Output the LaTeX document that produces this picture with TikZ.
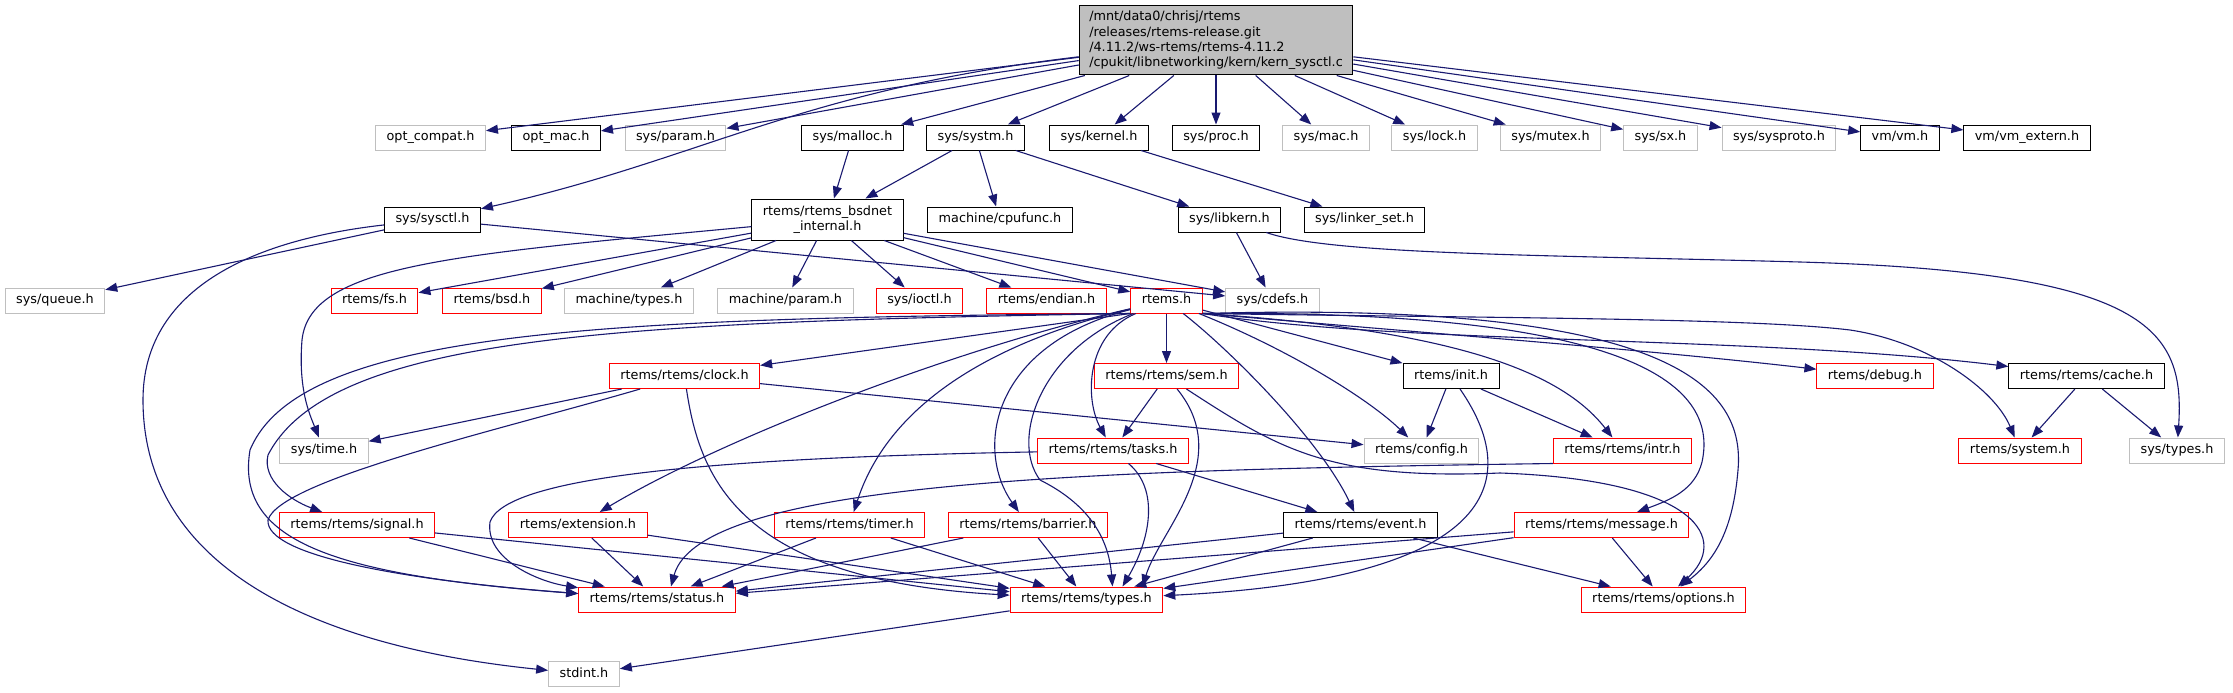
\documentclass[tikz,border=0pt]{standalone}
\usepackage{fontspec}
\setmainfont{DejaVu Sans}
\usetikzlibrary{arrows.meta}
\definecolor{edgeblue}{HTML}{191970}
\definecolor{boxgray}{HTML}{BFBFBF}
\definecolor{boxred}{HTML}{FF0000}
\newcommand\hdrfont{\fontsize{12.8pt}{15.3pt}\selectfont}

\begin{document}
\begin{tikzpicture}[x=1pt, y=-1pt, >={Stealth[length=12pt,width=9pt,inset=0pt]},
  hdrbase/.style={draw=black, fill=white, line width=1pt, inner xsep=11pt, inner ysep=0pt, font=\hdrfont},
  hdr/.style={hdrbase, minimum height=25pt, text height=9.6pt, text depth=3pt},
  hdrgray/.style={hdr, draw=boxgray},
  hdrred/.style={hdr, draw=boxred},
  rootbox/.style={hdrbase, fill=boxgray, align=left, inner xsep=10pt, minimum width=268pt, minimum height=69pt},
  dep/.style={->, edgeblue, line width=1.1pt}]
  \path[fill=white] (0,0) rectangle (2233,693);

  \node[rootbox] (root) at (1216,40.5) {/mnt/data0/chrisj/rtems\\/releases/rtems-release.git\\/4.11.2/ws-rtems/rtems-4.11.2\\/cpukit/libnetworking/kern/kern\_sysctl.c};

  \node[hdrgray] (optcompat) at (430.5,137.5) {opt\_compat.h};
  \node[hdr] (optmac) at (556,137.5) {opt\_mac.h};
  \node[hdrgray] (sysparam) at (675.5,137.5) {sys/param.h};
  \node[hdr] (sysmalloc) at (852.5,137.5) {sys/malloc.h};
  \node[hdr] (syssystm) at (975.5,137.5) {sys/systm.h};
  \node[hdr] (syskernel) at (1099,137.5) {sys/kernel.h};
  \node[hdr] (sysproc) at (1216,137.5) {sys/proc.h};
  \node[hdrgray] (sysmac) at (1326,137.5) {sys/mac.h};
  \node[hdrgray] (syslock) at (1434.5,137.5) {sys/lock.h};
  \node[hdrgray] (sysmutex) at (1550.5,137.5) {sys/mutex.h};
  \node[hdrgray] (syssx) at (1660.5,137.5) {sys/sx.h};
  \node[hdrgray] (syssysproto) at (1779,137.5) {sys/sysproto.h};
  \node[hdr] (vmvm) at (1900,137.5) {vm/vm.h};
  \node[hdr] (vmextern) at (2027,137.5) {vm/vm\_extern.h};

  \node[hdr] (syssysctl) at (432.5,219.5) {sys/sysctl.h};
  \node[hdrbase, align=center, minimum height=41pt] (bsdnet) at (827.5,219.5) {rtems/rtems\_bsdnet\\\_internal.h};
  \node[hdr] (cpufunc) at (1000,219.5) {machine/cpufunc.h};
  \node[hdr] (syslibkern) at (1229.5,219.5) {sys/libkern.h};
  \node[hdr] (linkerset) at (1364.5,219.5) {sys/linker\_set.h};

  \node[hdrgray] (sysqueue) at (55,300.5) {sys/queue.h};
  \node[hdrred] (rtemsfs) at (374.5,300.5) {rtems/fs.h};
  \node[hdrred] (rtemsbsd) at (492,300.5) {rtems/bsd.h};
  \node[hdrgray] (machtypes) at (629,300.5) {machine/types.h};
  \node[hdrgray] (machparam) at (785.5,300.5) {machine/param.h};
  \node[hdrred] (sysioctl) at (919.5,300.5) {sys/ioctl.h};
  \node[hdrred] (rtemsendian) at (1046.5,300.5) {rtems/endian.h};
  \node[hdrred] (rtemsh) at (1166.5,300.5) {rtems.h};
  \node[hdrgray] (syscdefs) at (1272.5,300.5) {sys/cdefs.h};

  \node[hdrred] (clock) at (684.5,376) {rtems/rtems/clock.h};
  \node[hdrred] (sem) at (1166.5,376) {rtems/rtems/sem.h};
  \node[hdr] (init) at (1451,376) {rtems/init.h};
  \node[hdrred] (debug) at (1875,376) {rtems/debug.h};
  \node[hdr] (cache) at (2086.5,376) {rtems/rtems/cache.h};

  \node[hdrgray] (systime) at (324,450.5) {sys/time.h};
  \node[hdrred] (tasks) at (1113,450.5) {rtems/rtems/tasks.h};
  \node[hdrgray] (config) at (1421.5,450.5) {rtems/config.h};
  \node[hdrred] (intr) at (1622.5,450.5) {rtems/rtems/intr.h};
  \node[hdrred] (system) at (2020,450.5) {rtems/system.h};
  \node[hdrgray] (systypes) at (2177,450.5) {sys/types.h};

  \node[hdrred] (signal) at (357,525) {rtems/rtems/signal.h};
  \node[hdrred] (extension) at (578,525) {rtems/extension.h};
  \node[hdrred] (timer) at (849.5,525) {rtems/rtems/timer.h};
  \node[hdrred] (barrier) at (1028,525) {rtems/rtems/barrier.h};
  \node[hdr] (event) at (1360.5,525) {rtems/rtems/event.h};
  \node[hdrred] (message) at (1601.5,525) {rtems/rtems/message.h};

  \node[hdrred] (status) at (657,599.5) {rtems/rtems/status.h};
  \node[hdrred] (rtypes) at (1086.5,599.5) {rtems/rtems/types.h};
  \node[hdrred] (options) at (1663.5,599.5) {rtems/rtems/options.h};

  \node[hdrgray] (stdint) at (584,674) {stdint.h};

  % kern_sysctl.c
  \draw[dep] (root) -- (optcompat);
  \draw[dep] (root) -- (optmac);
  \draw[dep] (root) -- (sysparam);
  \draw[dep] (root) -- (sysmalloc);
  \draw[dep] (root) -- (syssystm);
  \draw[dep] (root) -- (syskernel);
  \draw[dep] (root) -- (sysproc);
  \draw[dep] (root) -- (sysmac);
  \draw[dep] (root) -- (syslock);
  \draw[dep] (root) -- (sysmutex);
  \draw[dep] (root) -- (syssx);
  \draw[dep] (root) -- (syssysproto);
  \draw[dep] (root) -- (vmvm);
  \draw[dep] (root) -- (vmextern);
  \draw[dep] (root) .. controls (800,90) and (700,160) .. (syssysctl);

  \draw[dep] (sysmalloc) -- (bsdnet);
  \draw[dep] (syssystm) -- (bsdnet);
  \draw[dep] (syssystm) -- (cpufunc);
  \draw[dep] (syssystm) -- (syslibkern);
  \draw[dep] (syskernel) -- (linkerset);
  \draw[dep] (syssysctl) -- (sysqueue);
  \draw[dep] (syssysctl) -- (syscdefs);
  \draw[dep] (syssysctl) .. controls (250,240) and (143,290) .. (143,400) .. controls (143,560) and (300,645) .. (stdint);
  \draw[dep] (syslibkern) -- (syscdefs);
  \draw[dep] (syslibkern) .. controls (1330,255) and (1550,255) .. (1800,262) .. controls (2150,272) and (2185,330) .. (systypes);

  % rtems_bsdnet_internal.h
  \draw[dep] (bsdnet) -- (rtemsfs);
  \draw[dep] (bsdnet) -- (rtemsbsd);
  \draw[dep] (bsdnet) -- (machtypes);
  \draw[dep] (bsdnet) -- (machparam);
  \draw[dep] (bsdnet) -- (sysioctl);
  \draw[dep] (bsdnet) -- (rtemsendian);
  \draw[dep] (bsdnet) -- (rtemsh);
  \draw[dep] (bsdnet) -- (syscdefs);
  \draw[dep] (bsdnet) .. controls (450,255) and (310,265) .. (302,340) .. controls (298,390) and (310,415) .. (systime);

  % rtems.h
  \draw[dep] (rtemsh.south west) -- (clock);
  \draw[dep] (rtemsh) -- (sem);
  \draw[dep] (rtemsh) -- (init);
  \draw[dep] (rtemsh.south east) .. controls (1450,335) and (1650,350) .. (debug);
  \draw[dep] (rtemsh.south east) .. controls (1400,345) and (1750,335) .. (cache);
  \draw[dep] (rtemsh.south east) .. controls (1500,318) and (1750,318) .. (1850,330) .. controls (1930,342) and (1995,390) .. (system);
  \draw[dep] (rtemsh) .. controls (1290,350) and (1370,400) .. (config);
  \draw[dep] (rtemsh.south east) .. controls (1450,330) and (1560,370) .. (intr);
  \draw[dep] (rtemsh.south east) .. controls (1620,310) and (1720,380) .. (1702,462) .. controls (1695,490) and (1670,500) .. (message);
  \draw[dep] (rtemsh.south east) .. controls (1680,300) and (1745,390) .. (1738,470) .. controls (1733,530) and (1715,560) .. (options);
  \draw[dep] (rtemsh) .. controls (1230,350) and (1320,440) .. (event);
  \draw[dep] (rtemsh) .. controls (1085,335) and (1085,400) .. (tasks);
  \draw[dep] (rtemsh) .. controls (1000,340) and (890,400) .. (timer);
  \draw[dep] (rtemsh) .. controls (990,345) and (975,450) .. (barrier);
  \draw[dep] (rtemsh) .. controls (950,350) and (720,440) .. (extension);
  \draw[dep] (rtemsh) .. controls (1040,350) and (1010,440) .. (1040,480) .. controls (1080,500) and (1108,530) .. ([xshift=26pt]rtypes.north);
  \draw[dep] (rtemsh.south west) .. controls (600,318) and (300,330) .. (250,450) .. controls (235,540) and (330,575) .. (status);
  \draw[dep] (rtemsh.south west) .. controls (620,322) and (330,335) .. (268,455) .. controls (262,480) and (290,500) .. (signal);

  % second level
  \draw[dep] (clock) -- (systime);
  \draw[dep] (clock) -- (config);
  \draw[dep] (clock) .. controls (500,430) and (280,480) .. (268,520) .. controls (265,555) and (400,580) .. (status);
  \draw[dep] (clock) .. controls (700,480) and (740,580) .. (rtypes);
  \draw[dep] (sem) -- (tasks);
  \draw[dep] (sem) .. controls (1235,460) and (1160,530) .. ([xshift=56pt]rtypes.north);
  \draw[dep] (sem) .. controls (1280,450) and (1330,480) .. (1500,473) .. controls (1700,480) and (1730,540) .. (options);
  \draw[dep] (init) -- (config);
  \draw[dep] (init) -- (intr);
  \draw[dep] (init) .. controls (1530,490) and (1480,580) .. (rtypes);
  \draw[dep] (cache) -- (system);
  \draw[dep] (cache) -- (systypes);
  \draw[dep] (tasks) -- (event);
  \draw[dep] (tasks) .. controls (1160,490) and (1150,540) .. ([xshift=36pt]rtypes.north);
  \draw[dep] (tasks) .. controls (700,458) and (505,478) .. (490,522) .. controls (485,560) and (540,582) .. (status);
  \draw[dep] (intr.south west) .. controls (1100,470) and (700,480) .. ([xshift=14pt]status.north);

  \draw[dep] (signal) -- (status);
  \draw[dep] (signal) -- (rtypes);
  \draw[dep] (extension) -- (status);
  \draw[dep] (extension) -- (rtypes);
  \draw[dep] (timer) -- (status);
  \draw[dep] (timer) -- (rtypes);
  \draw[dep] (barrier) -- (status);
  \draw[dep] (barrier) -- (rtypes);
  \draw[dep] (event) -- (status);
  \draw[dep] (event) -- (rtypes);
  \draw[dep] (event) -- (options);
  \draw[dep] (message) -- (status);
  \draw[dep] (message) -- (rtypes);
  \draw[dep] (message) -- (options);
  \draw[dep] (rtypes) -- (stdint);
\end{tikzpicture}
\end{document}
